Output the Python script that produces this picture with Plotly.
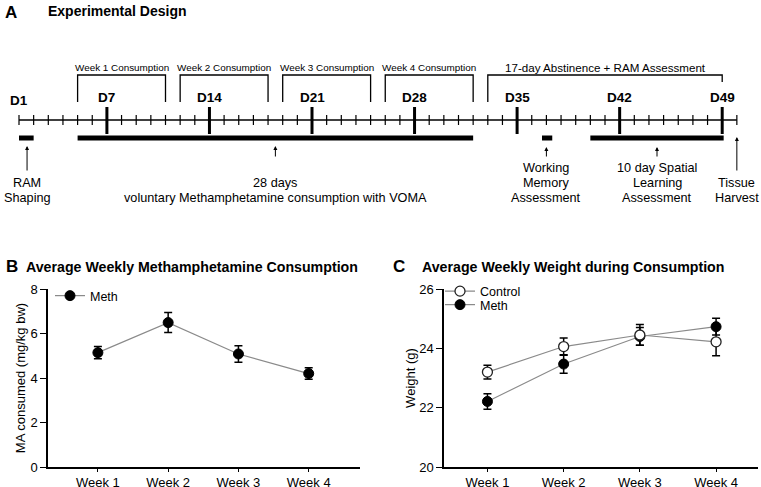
import plotly.graph_objects as go

FONT = "Liberation Sans, Arial, sans-serif"

# ---- panel A: experimental timeline (days) ----
timeline_days = list(range(1, 51))
major_days = [7, 14, 21, 28, 35, 42, 49]
label_days = [1, 7, 14, 21, 28, 35, 42, 49]
day_labels = ["D1", "D7", "D14", "D21", "D28", "D35", "D42", "D49"]

week_starts = [5, 12, 19, 26]
week_ends = [11, 18, 25, 32]
week_labels = ["Week 1 Consumption", "Week 2 Consumption",
               "Week 3 Consumption", "Week 4 Consumption"]
abstinence_start = 33
abstinence_end = 49
abstinence_label = "17-day Abstinence + RAM Assessment"

phase_starts = [1, 5, 36.7, 40]
phase_ends = [2, 32, 37.4, 49.1]
arrow_days = [1.55, 18.5, 37, 44.55, 50]
arrow_labels = [["RAM", "Shaping"],
                ["28 days", "voluntary Methamphetamine consumption with VOMA"],
                ["Working", "Memory", "Assessment"],
                ["10 day Spatial", "Learning", "Assessment"],
                ["Tissue", "Harvest"]]

# ---- panels B and C ----
weeks = ["Week 1", "Week 2", "Week 3", "Week 4"]
ma_mean = [5.14, 6.49, 5.08, 4.20]
ma_sem = [0.28, 0.45, 0.37, 0.26]
ctrl_weight = [23.20, 24.06, 24.45, 24.22]
ctrl_sem = [0.23, 0.29, 0.35, 0.47]
meth_weight = [22.21, 23.47, 24.40, 24.73]
meth_sem = [0.26, 0.31, 0.30, 0.28]

W, H = 761, 487
PX_PER_DAY = 14.65

# vertical layout of panel A (screen pixels, y3 axis is in pixels)
LINE_Y = 120
MINOR_HALF = 5
MAJOR_TOP, MAJOR_BOT = 107, 134
BAR_Y = 138
BRACKET_TOP, BRACKET_BOT = 75, 102
ABST_RIGHT_BOT = 82
arrow_heads = [146, 146, 147, 147, 137]
arrow_tails = [172, 158, 158, 158, 172]
TEXT_LAST_Y = 198
TEXT_STEP = 15


def segments(xs0, xs1, ys0, ys1):
    x, y = [], []
    for a, b, c, d in zip(xs0, xs1, ys0, ys1):
        x += [a, b, None]
        y += [c, d, None]
    return x, y


def add_lines(fig, x, y, width, color="black"):
    fig.add_trace(go.Scatter(x=x, y=y, mode="lines", xaxis="x3", yaxis="y3",
                             line=dict(color=color, width=width),
                             showlegend=False, hoverinfo="skip"))


fig = go.Figure()

# baseline
add_lines(fig, [timeline_days[0], timeline_days[-1]], [LINE_Y, LINE_Y], 1.5)
# minor ticks
minor = [d for d in timeline_days if d not in major_days]
x, y = segments(minor, minor, [LINE_Y - MINOR_HALF] * len(minor),
                [LINE_Y + MINOR_HALF] * len(minor))
add_lines(fig, x, y, 1.2)
# major ticks
x, y = segments(major_days, major_days, [MAJOR_TOP] * len(major_days),
                [MAJOR_BOT] * len(major_days))
add_lines(fig, x, y, 3)
# phase bars
x, y = segments(phase_starts, phase_ends, [BAR_Y] * len(phase_starts),
                [BAR_Y] * len(phase_starts))
add_lines(fig, x, y, 5)
# week brackets
bx, by = [], []
for s, e in zip(week_starts, week_ends):
    bx += [s, s, e, e, None]
    by += [BRACKET_BOT, BRACKET_TOP, BRACKET_TOP, BRACKET_BOT, None]
bx += [abstinence_start, abstinence_start, abstinence_end, abstinence_end]
by += [BRACKET_BOT, BRACKET_TOP, BRACKET_TOP, ABST_RIGHT_BOT]
add_lines(fig, bx, by, 1.3)

annotations = []
# panel A titles
annotations.append(dict(text="<b>A</b>", x=3 / W, y=1 - 12 / H, xref="paper", yref="paper",
                        xanchor="left", yanchor="middle", showarrow=False,
                        font=dict(size=17, family=FONT)))
annotations.append(dict(text="<b>Experimental Design</b>", x=46 / W, y=1 - 11 / H,
                        xref="paper", yref="paper", xanchor="left", yanchor="middle",
                        showarrow=False, font=dict(size=14, family=FONT)))
# day labels
for d, lab in zip(label_days, day_labels):
    annotations.append(dict(text=f"<b>{lab}</b>", x=d, y=100 if d == 1 else 97,
                            xref="x3", yref="y3", showarrow=False,
                            font=dict(size=13.5, family=FONT)))
# bracket labels
for s, e, lab in zip(week_starts, week_ends, week_labels):
    annotations.append(dict(text=lab, x=(s + e) / 2, y=67, xref="x3", yref="y3",
                            showarrow=False, font=dict(size=9.9, family=FONT)))
annotations.append(dict(text=abstinence_label, x=(abstinence_start + abstinence_end) / 2,
                        y=67, xref="x3", yref="y3", showarrow=False,
                        font=dict(size=11.6, family=FONT)))
# arrows + descriptions
for i, (d, lines, h, t) in enumerate(zip(arrow_days, arrow_labels, arrow_heads, arrow_tails)):
    annotations.append(dict(text="", x=d, y=h, xref="x3", yref="y3", ax=0, ay=t - h,
                            showarrow=True, arrowhead=2, arrowsize=0.8, arrowwidth=1,
                            arrowcolor="black"))
    for k, line in enumerate(lines):
        ly = TEXT_LAST_Y - TEXT_STEP * (len(lines) - 1 - k)
        annotations.append(dict(text=line, x=d, y=ly, xref="x3", yref="y3",
                                showarrow=False, font=dict(size=12.7, family=FONT)))

# panel B/C titles
annotations.append(dict(text="<b>B</b>", x=4 / W, y=1 - 266 / H, xref="paper", yref="paper",
                        xanchor="left", yanchor="middle", showarrow=False,
                        font=dict(size=17, family=FONT)))
annotations.append(dict(text="<b>Average Weekly Methamphetamine Consumption</b>",
                        x=24 / W, y=1 - 267 / H, xref="paper", yref="paper",
                        xanchor="left", yanchor="middle", showarrow=False,
                        font=dict(size=14.2, family=FONT)))
annotations.append(dict(text="<b>C</b>", x=391 / W, y=1 - 266 / H, xref="paper", yref="paper",
                        xanchor="left", yanchor="middle", showarrow=False,
                        font=dict(size=17, family=FONT)))
annotations.append(dict(text="<b>Average Weekly Weight during Consumption</b>",
                        x=420 / W, y=1 - 267 / H, xref="paper", yref="paper",
                        xanchor="left", yanchor="middle", showarrow=False,
                        font=dict(size=14.2, family=FONT)))

GRAY = "#8a8a8a"
err = dict(type="data", color="black", thickness=1.5, width=4)

# panel B
fig.add_trace(go.Scatter(x=weeks, y=ma_mean, name="Meth", mode="lines+markers",
                         error_y=dict(array=ma_sem, **err),
                         line=dict(color=GRAY, width=1.2),
                         marker=dict(size=10, color="black", line=dict(color="black", width=1)),
                         xaxis="x", yaxis="y", legend="legend"))
# panel C
fig.add_trace(go.Scatter(x=weeks, y=meth_weight, name="Meth", mode="lines+markers",
                         error_y=dict(array=meth_sem, **err),
                         line=dict(color=GRAY, width=1.2),
                         marker=dict(size=10, color="black", line=dict(color="black", width=1)),
                         xaxis="x2", yaxis="y2", legend="legend3"))
fig.add_trace(go.Scatter(x=weeks, y=ctrl_weight, name="Control", mode="lines+markers",
                         error_y=dict(array=ctrl_sem, **err),
                         line=dict(color=GRAY, width=1.2),
                         marker=dict(size=10, color="white", line=dict(color="#222", width=1.3)),
                         xaxis="x2", yaxis="y2", legend="legend2"))

axis_common = dict(showline=True, linecolor="black", linewidth=1.5, ticks="outside",
                   tickcolor="black", tickwidth=1.3, showgrid=False, zeroline=False,
                   automargin=False,
                   tickfont=dict(size=13, family=FONT, color="black"))

legend_common = dict(xanchor="left", yanchor="middle", bgcolor="rgba(0,0,0,0)",
                     itemwidth=30, font=dict(size=12.5, family=FONT))

fig.update_layout(
    width=W, height=H, margin=dict(l=0, r=0, t=0, b=0, autoexpand=False),
    paper_bgcolor="white", plot_bgcolor="rgba(0,0,0,0)",
    font=dict(family=FONT, color="black"),
    xaxis=dict(domain=[48 / W, 360 / W], range=[-0.71, 3.73], ticklen=3,
               anchor="y", **axis_common),
    yaxis=dict(domain=[1 - 467 / H, 1 - 289 / H], range=[0, 8], tickvals=[0, 2, 4, 6, 8],
               ticklen=6, anchor="x",
               title=dict(text="MA consumed (mg/kg bw)", font=dict(size=13, family=FONT),
                          standoff=2),
               **axis_common),
    xaxis2=dict(domain=[444 / W, 758 / W], range=[-0.57, 3.55], ticklen=3,
                anchor="y2", **axis_common),
    yaxis2=dict(domain=[1 - 467 / H, 1 - 289 / H], range=[20, 26], tickvals=[20, 22, 24, 26],
                ticklen=6, anchor="x2",
                title=dict(text="Weight (g)", font=dict(size=13, family=FONT), standoff=1),
                **axis_common),
    xaxis3=dict(domain=[0, 1], range=[1 - 19 / PX_PER_DAY, 1 - 19 / PX_PER_DAY + W / PX_PER_DAY],
                visible=False, anchor="y3", automargin=False),
    yaxis3=dict(domain=[0, 1], range=[H, 0], visible=False, anchor="x3", automargin=False),
    legend=dict(x=50 / W, y=1 - 296 / H, **legend_common),
    legend2=dict(x=440 / W, y=1 - 291.5 / H, **legend_common),
    legend3=dict(x=440 / W, y=1 - 305 / H, **legend_common),
    annotations=annotations,
)

# page body has a default 8px margin; drop it so the figure fills the window
fig.write_html("out.html", config={"displayModeBar": False},
               post_script="document.body.style.margin='0';")
